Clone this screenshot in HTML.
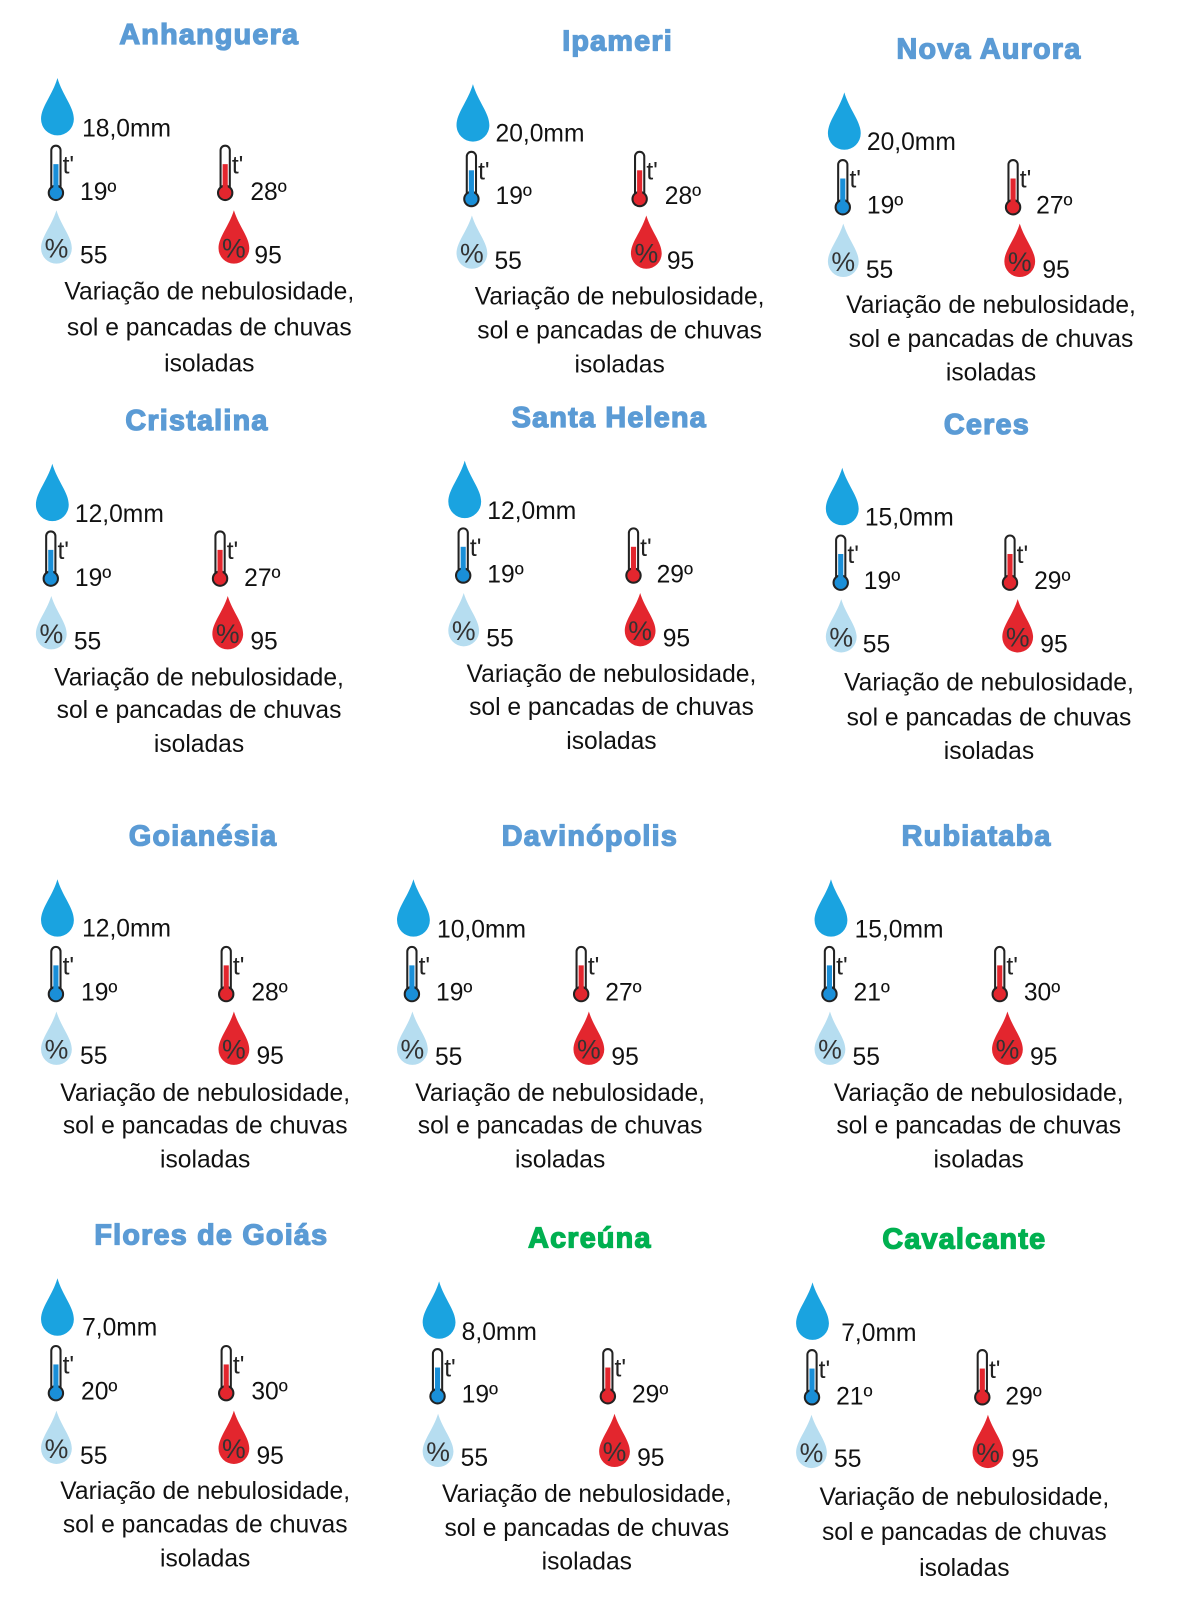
<!DOCTYPE html>
<html><head><meta charset="utf-8"><style>
body{margin:0;background:#fff;width:1190px;height:1600px;overflow:hidden;position:relative}
#c{position:absolute;left:0;top:0;width:1160px;height:1560px;transform:scale(1.0259);transform-origin:0 0;overflow:hidden}
.b{position:absolute;width:0;height:0}
.b>*{position:absolute}
.t{position:absolute;font:bold 28px "Liberation Sans",sans-serif;letter-spacing:1.2px;color:#5b9bd5;-webkit-text-stroke:1.3px #5b9bd5;white-space:nowrap;transform:translate(-50%,-50%)}
.g{color:#00b050;-webkit-text-stroke:1.3px #00b050}
.v{font:24px "Liberation Sans",sans-serif;color:#111;white-space:nowrap;transform:translateY(-50%)}
.d{position:absolute;font:24px "Liberation Sans",sans-serif;color:#111;white-space:nowrap;transform:translate(-50%,-50%)}
svg{overflow:visible}
</style></head><body><div id="c">
<svg width="0" height="0" style="position:absolute"><defs>
<path id="dp" d="M16 0C11 17 0 28 0 40A16 16 0 0 0 32 40C32 28 21 17 16 0Z"/>
<g id="tb"><rect x="3" y="0" width="9" height="46" rx="4.5" fill="#fff" stroke="#222" stroke-width="2"/><circle cx="7.5" cy="46" r="7" fill="#1a8fd8" stroke="#222" stroke-width="2"/><rect x="5" y="18" width="5" height="28" fill="#1a8fd8"/><text x="14" y="27" font-family="Liberation Sans" font-size="24" fill="#222">t'</text></g>
<g id="tr"><rect x="3" y="0" width="9" height="46" rx="4.5" fill="#fff" stroke="#222" stroke-width="2"/><circle cx="7.5" cy="46" r="7" fill="#e3262e" stroke="#222" stroke-width="2"/><rect x="5" y="18" width="5" height="28" fill="#e3262e"/><text x="14" y="27" font-family="Liberation Sans" font-size="24" fill="#222">t'</text></g>
<g id="pb"><path d="M15 0C10 16 0 26 0 37A15 15 0 0 0 30 37C30 26 20 16 15 0Z" fill="#b6ddf0"/><text x="15" y="46" text-anchor="middle" font-family="Liberation Sans" font-size="26" fill="#333">%</text></g>
<g id="pr"><path d="M15 0C10 16 0 26 0 37A15 15 0 0 0 30 37C30 26 20 16 15 0Z" fill="#e3262e"/><text x="15" y="46" text-anchor="middle" font-family="Liberation Sans" font-size="26" fill="#333">%</text></g>
</defs></svg>

<div class="t" style="left:204px;top:34px">Anhanguera</div>
<div class="b" style="left:40px;top:76px">
<svg width="32" height="57" style="left:0;top:0"><use href="#dp" fill="#1aa3e0"/></svg><div class="v" style="left:40px;top:50px">18,0mm</div>
<svg width="30" height="56" style="left:7px;top:66px"><use href="#tb"/></svg><div class="v" style="left:38px;top:112px">19º</div>
<svg width="30" height="56" style="left:172px;top:66px"><use href="#tr"/></svg><div class="v" style="left:204px;top:112px">28º</div>
<svg width="30" height="53" style="left:0;top:129px"><use href="#pb"/></svg><div class="v" style="left:38px;top:174px">55</div>
<svg width="30" height="53" style="left:173px;top:129px"><use href="#pr"/></svg><div class="v" style="left:208px;top:174px">95</div>
</div>
<div class="d" style="left:204px;top:285px">Variação de nebulosidade,</div><div class="d" style="left:204px;top:320px">sol e pancadas de chuvas</div><div class="d" style="left:204px;top:355px">isoladas</div>

<div class="t" style="left:602px;top:40px">Ipameri</div>
<div class="b" style="left:445px;top:82px">
<svg width="32" height="57" style="left:0;top:0"><use href="#dp" fill="#1aa3e0"/></svg><div class="v" style="left:38px;top:49px">20,0mm</div>
<svg width="30" height="56" style="left:7px;top:66px"><use href="#tb"/></svg><div class="v" style="left:38px;top:110px">19º</div>
<svg width="30" height="56" style="left:171px;top:66px"><use href="#tr"/></svg><div class="v" style="left:203px;top:110px">28º</div>
<svg width="30" height="53" style="left:0;top:128px"><use href="#pb"/></svg><div class="v" style="left:37px;top:173px">55</div>
<svg width="30" height="53" style="left:170px;top:128px"><use href="#pr"/></svg><div class="v" style="left:205px;top:173px">95</div>
</div>
<div class="d" style="left:604px;top:290px">Variação de nebulosidade,</div><div class="d" style="left:604px;top:323px">sol e pancadas de chuvas</div><div class="d" style="left:604px;top:356px">isoladas</div>

<div class="t" style="left:964px;top:48px">Nova Aurora</div>
<div class="b" style="left:807px;top:90px">
<svg width="32" height="57" style="left:0;top:0"><use href="#dp" fill="#1aa3e0"/></svg><div class="v" style="left:38px;top:49px">20,0mm</div>
<svg width="30" height="56" style="left:7px;top:66px"><use href="#tb"/></svg><div class="v" style="left:38px;top:111px">19º</div>
<svg width="30" height="56" style="left:173px;top:66px"><use href="#tr"/></svg><div class="v" style="left:203px;top:111px">27º</div>
<svg width="30" height="53" style="left:0;top:128px"><use href="#pb"/></svg><div class="v" style="left:37px;top:174px">55</div>
<svg width="30" height="53" style="left:172px;top:128px"><use href="#pr"/></svg><div class="v" style="left:209px;top:174px">95</div>
</div>
<div class="d" style="left:966px;top:298px">Variação de nebulosidade,</div><div class="d" style="left:966px;top:331px">sol e pancadas de chuvas</div><div class="d" style="left:966px;top:364px">isoladas</div>

<div class="t" style="left:192px;top:410px">Cristalina</div>
<div class="b" style="left:35px;top:452px">
<svg width="32" height="57" style="left:0;top:0"><use href="#dp" fill="#1aa3e0"/></svg><div class="v" style="left:38px;top:50px">12,0mm</div>
<svg width="30" height="56" style="left:7px;top:66px"><use href="#tb"/></svg><div class="v" style="left:38px;top:112px">19º</div>
<svg width="30" height="56" style="left:172px;top:66px"><use href="#tr"/></svg><div class="v" style="left:203px;top:112px">27º</div>
<svg width="30" height="53" style="left:0;top:129px"><use href="#pb"/></svg><div class="v" style="left:37px;top:174px">55</div>
<svg width="30" height="53" style="left:172px;top:129px"><use href="#pr"/></svg><div class="v" style="left:209px;top:174px">95</div>
</div>
<div class="d" style="left:194px;top:661px">Variação de nebulosidade,</div><div class="d" style="left:194px;top:693px">sol e pancadas de chuvas</div><div class="d" style="left:194px;top:726px">isoladas</div>

<div class="t" style="left:594px;top:407px">Santa Helena</div>
<div class="b" style="left:437px;top:449px">
<svg width="32" height="57" style="left:0;top:0"><use href="#dp" fill="#1aa3e0"/></svg><div class="v" style="left:38px;top:50px">12,0mm</div>
<svg width="30" height="56" style="left:7px;top:66px"><use href="#tb"/></svg><div class="v" style="left:38px;top:112px">19º</div>
<svg width="30" height="56" style="left:173px;top:66px"><use href="#tr"/></svg><div class="v" style="left:203px;top:112px">29º</div>
<svg width="30" height="53" style="left:0;top:129px"><use href="#pb"/></svg><div class="v" style="left:37px;top:174px">55</div>
<svg width="30" height="53" style="left:172px;top:129px"><use href="#pr"/></svg><div class="v" style="left:209px;top:174px">95</div>
</div>
<div class="d" style="left:596px;top:658px">Variação de nebulosidade,</div><div class="d" style="left:596px;top:690px">sol e pancadas de chuvas</div><div class="d" style="left:596px;top:723px">isoladas</div>

<div class="t" style="left:962px;top:414px">Ceres</div>
<div class="b" style="left:805px;top:456px">
<svg width="32" height="57" style="left:0;top:0"><use href="#dp" fill="#1aa3e0"/></svg><div class="v" style="left:38px;top:49px">15,0mm</div>
<svg width="30" height="56" style="left:7px;top:66px"><use href="#tb"/></svg><div class="v" style="left:37px;top:111px">19º</div>
<svg width="30" height="56" style="left:172px;top:66px"><use href="#tr"/></svg><div class="v" style="left:203px;top:111px">29º</div>
<svg width="30" height="53" style="left:0;top:128px"><use href="#pb"/></svg><div class="v" style="left:36px;top:173px">55</div>
<svg width="30" height="53" style="left:172px;top:128px"><use href="#pr"/></svg><div class="v" style="left:209px;top:173px">95</div>
</div>
<div class="d" style="left:964px;top:666px">Variação de nebulosidade,</div><div class="d" style="left:964px;top:700px">sol e pancadas de chuvas</div><div class="d" style="left:964px;top:733px">isoladas</div>

<div class="t" style="left:198px;top:815px">Goianésia</div>
<div class="b" style="left:40px;top:857px">
<svg width="32" height="57" style="left:0;top:0"><use href="#dp" fill="#1aa3e0"/></svg><div class="v" style="left:40px;top:49px">12,0mm</div>
<svg width="30" height="56" style="left:7px;top:66px"><use href="#tb"/></svg><div class="v" style="left:39px;top:111px">19º</div>
<svg width="30" height="56" style="left:173px;top:66px"><use href="#tr"/></svg><div class="v" style="left:205px;top:111px">28º</div>
<svg width="30" height="53" style="left:0;top:129px"><use href="#pb"/></svg><div class="v" style="left:38px;top:173px">55</div>
<svg width="30" height="53" style="left:173px;top:129px"><use href="#pr"/></svg><div class="v" style="left:210px;top:173px">95</div>
</div>
<div class="d" style="left:200px;top:1066px">Variação de nebulosidade,</div><div class="d" style="left:200px;top:1098px">sol e pancadas de chuvas</div><div class="d" style="left:200px;top:1131px">isoladas</div>

<div class="t" style="left:575px;top:815px">Davinópolis</div>
<div class="b" style="left:387px;top:857px">
<svg width="32" height="57" style="left:0;top:0"><use href="#dp" fill="#1aa3e0"/></svg><div class="v" style="left:39px;top:50px">10,0mm</div>
<svg width="30" height="56" style="left:7px;top:66px"><use href="#tb"/></svg><div class="v" style="left:38px;top:111px">19º</div>
<svg width="30" height="56" style="left:172px;top:66px"><use href="#tr"/></svg><div class="v" style="left:203px;top:111px">27º</div>
<svg width="30" height="53" style="left:0;top:129px"><use href="#pb"/></svg><div class="v" style="left:37px;top:174px">55</div>
<svg width="30" height="53" style="left:172px;top:129px"><use href="#pr"/></svg><div class="v" style="left:209px;top:174px">95</div>
</div>
<div class="d" style="left:546px;top:1066px">Variação de nebulosidade,</div><div class="d" style="left:546px;top:1098px">sol e pancadas de chuvas</div><div class="d" style="left:546px;top:1131px">isoladas</div>

<div class="t" style="left:952px;top:815px">Rubiataba</div>
<div class="b" style="left:794px;top:857px">
<svg width="32" height="57" style="left:0;top:0"><use href="#dp" fill="#1aa3e0"/></svg><div class="v" style="left:39px;top:50px">15,0mm</div>
<svg width="30" height="56" style="left:7px;top:66px"><use href="#tb"/></svg><div class="v" style="left:38px;top:111px">21º</div>
<svg width="30" height="56" style="left:173px;top:66px"><use href="#tr"/></svg><div class="v" style="left:204px;top:111px">30º</div>
<svg width="30" height="53" style="left:0;top:129px"><use href="#pb"/></svg><div class="v" style="left:37px;top:174px">55</div>
<svg width="30" height="53" style="left:173px;top:129px"><use href="#pr"/></svg><div class="v" style="left:210px;top:174px">95</div>
</div>
<div class="d" style="left:954px;top:1066px">Variação de nebulosidade,</div><div class="d" style="left:954px;top:1098px">sol e pancadas de chuvas</div><div class="d" style="left:954px;top:1131px">isoladas</div>

<div class="t" style="left:206px;top:1204px">Flores de Goiás</div>
<div class="b" style="left:40px;top:1246px">
<svg width="32" height="57" style="left:0;top:0"><use href="#dp" fill="#1aa3e0"/></svg><div class="v" style="left:40px;top:49px">7,0mm</div>
<svg width="30" height="56" style="left:7px;top:66px"><use href="#tb"/></svg><div class="v" style="left:39px;top:111px">20º</div>
<svg width="30" height="56" style="left:173px;top:66px"><use href="#tr"/></svg><div class="v" style="left:205px;top:111px">30º</div>
<svg width="30" height="53" style="left:0;top:129px"><use href="#pb"/></svg><div class="v" style="left:38px;top:174px">55</div>
<svg width="30" height="53" style="left:173px;top:129px"><use href="#pr"/></svg><div class="v" style="left:210px;top:174px">95</div>
</div>
<div class="d" style="left:200px;top:1454px">Variação de nebulosidade,</div><div class="d" style="left:200px;top:1487px">sol e pancadas de chuvas</div><div class="d" style="left:200px;top:1520px">isoladas</div>

<div class="t g" style="left:575px;top:1207px">Acreúna</div>
<div class="b" style="left:412px;top:1249px">
<svg width="32" height="57" style="left:0;top:0"><use href="#dp" fill="#1aa3e0"/></svg><div class="v" style="left:38px;top:50px">8,0mm</div>
<svg width="30" height="56" style="left:7px;top:66px"><use href="#tb"/></svg><div class="v" style="left:38px;top:111px">19º</div>
<svg width="30" height="56" style="left:173px;top:66px"><use href="#tr"/></svg><div class="v" style="left:204px;top:111px">29º</div>
<svg width="30" height="53" style="left:0;top:129px"><use href="#pb"/></svg><div class="v" style="left:37px;top:173px">55</div>
<svg width="30" height="53" style="left:172px;top:129px"><use href="#pr"/></svg><div class="v" style="left:209px;top:173px">95</div>
</div>
<div class="d" style="left:572px;top:1457px">Variação de nebulosidade,</div><div class="d" style="left:572px;top:1490px">sol e pancadas de chuvas</div><div class="d" style="left:572px;top:1523px">isoladas</div>

<div class="t g" style="left:940px;top:1208px">Cavalcante</div>
<div class="b" style="left:776px;top:1250px">
<svg width="32" height="57" style="left:0;top:0"><use href="#dp" fill="#1aa3e0"/></svg><div class="v" style="left:44px;top:50px">7,0mm</div>
<svg width="30" height="56" style="left:8px;top:66px"><use href="#tb"/></svg><div class="v" style="left:39px;top:112px">21º</div>
<svg width="30" height="56" style="left:174px;top:66px"><use href="#tr"/></svg><div class="v" style="left:204px;top:112px">29º</div>
<svg width="30" height="53" style="left:0;top:129px"><use href="#pb"/></svg><div class="v" style="left:37px;top:173px">55</div>
<svg width="30" height="53" style="left:172px;top:129px"><use href="#pr"/></svg><div class="v" style="left:210px;top:173px">95</div>
</div>
<div class="d" style="left:940px;top:1460px">Variação de nebulosidade,</div><div class="d" style="left:940px;top:1494px">sol e pancadas de chuvas</div><div class="d" style="left:940px;top:1529px">isoladas</div>

</div></body></html>
